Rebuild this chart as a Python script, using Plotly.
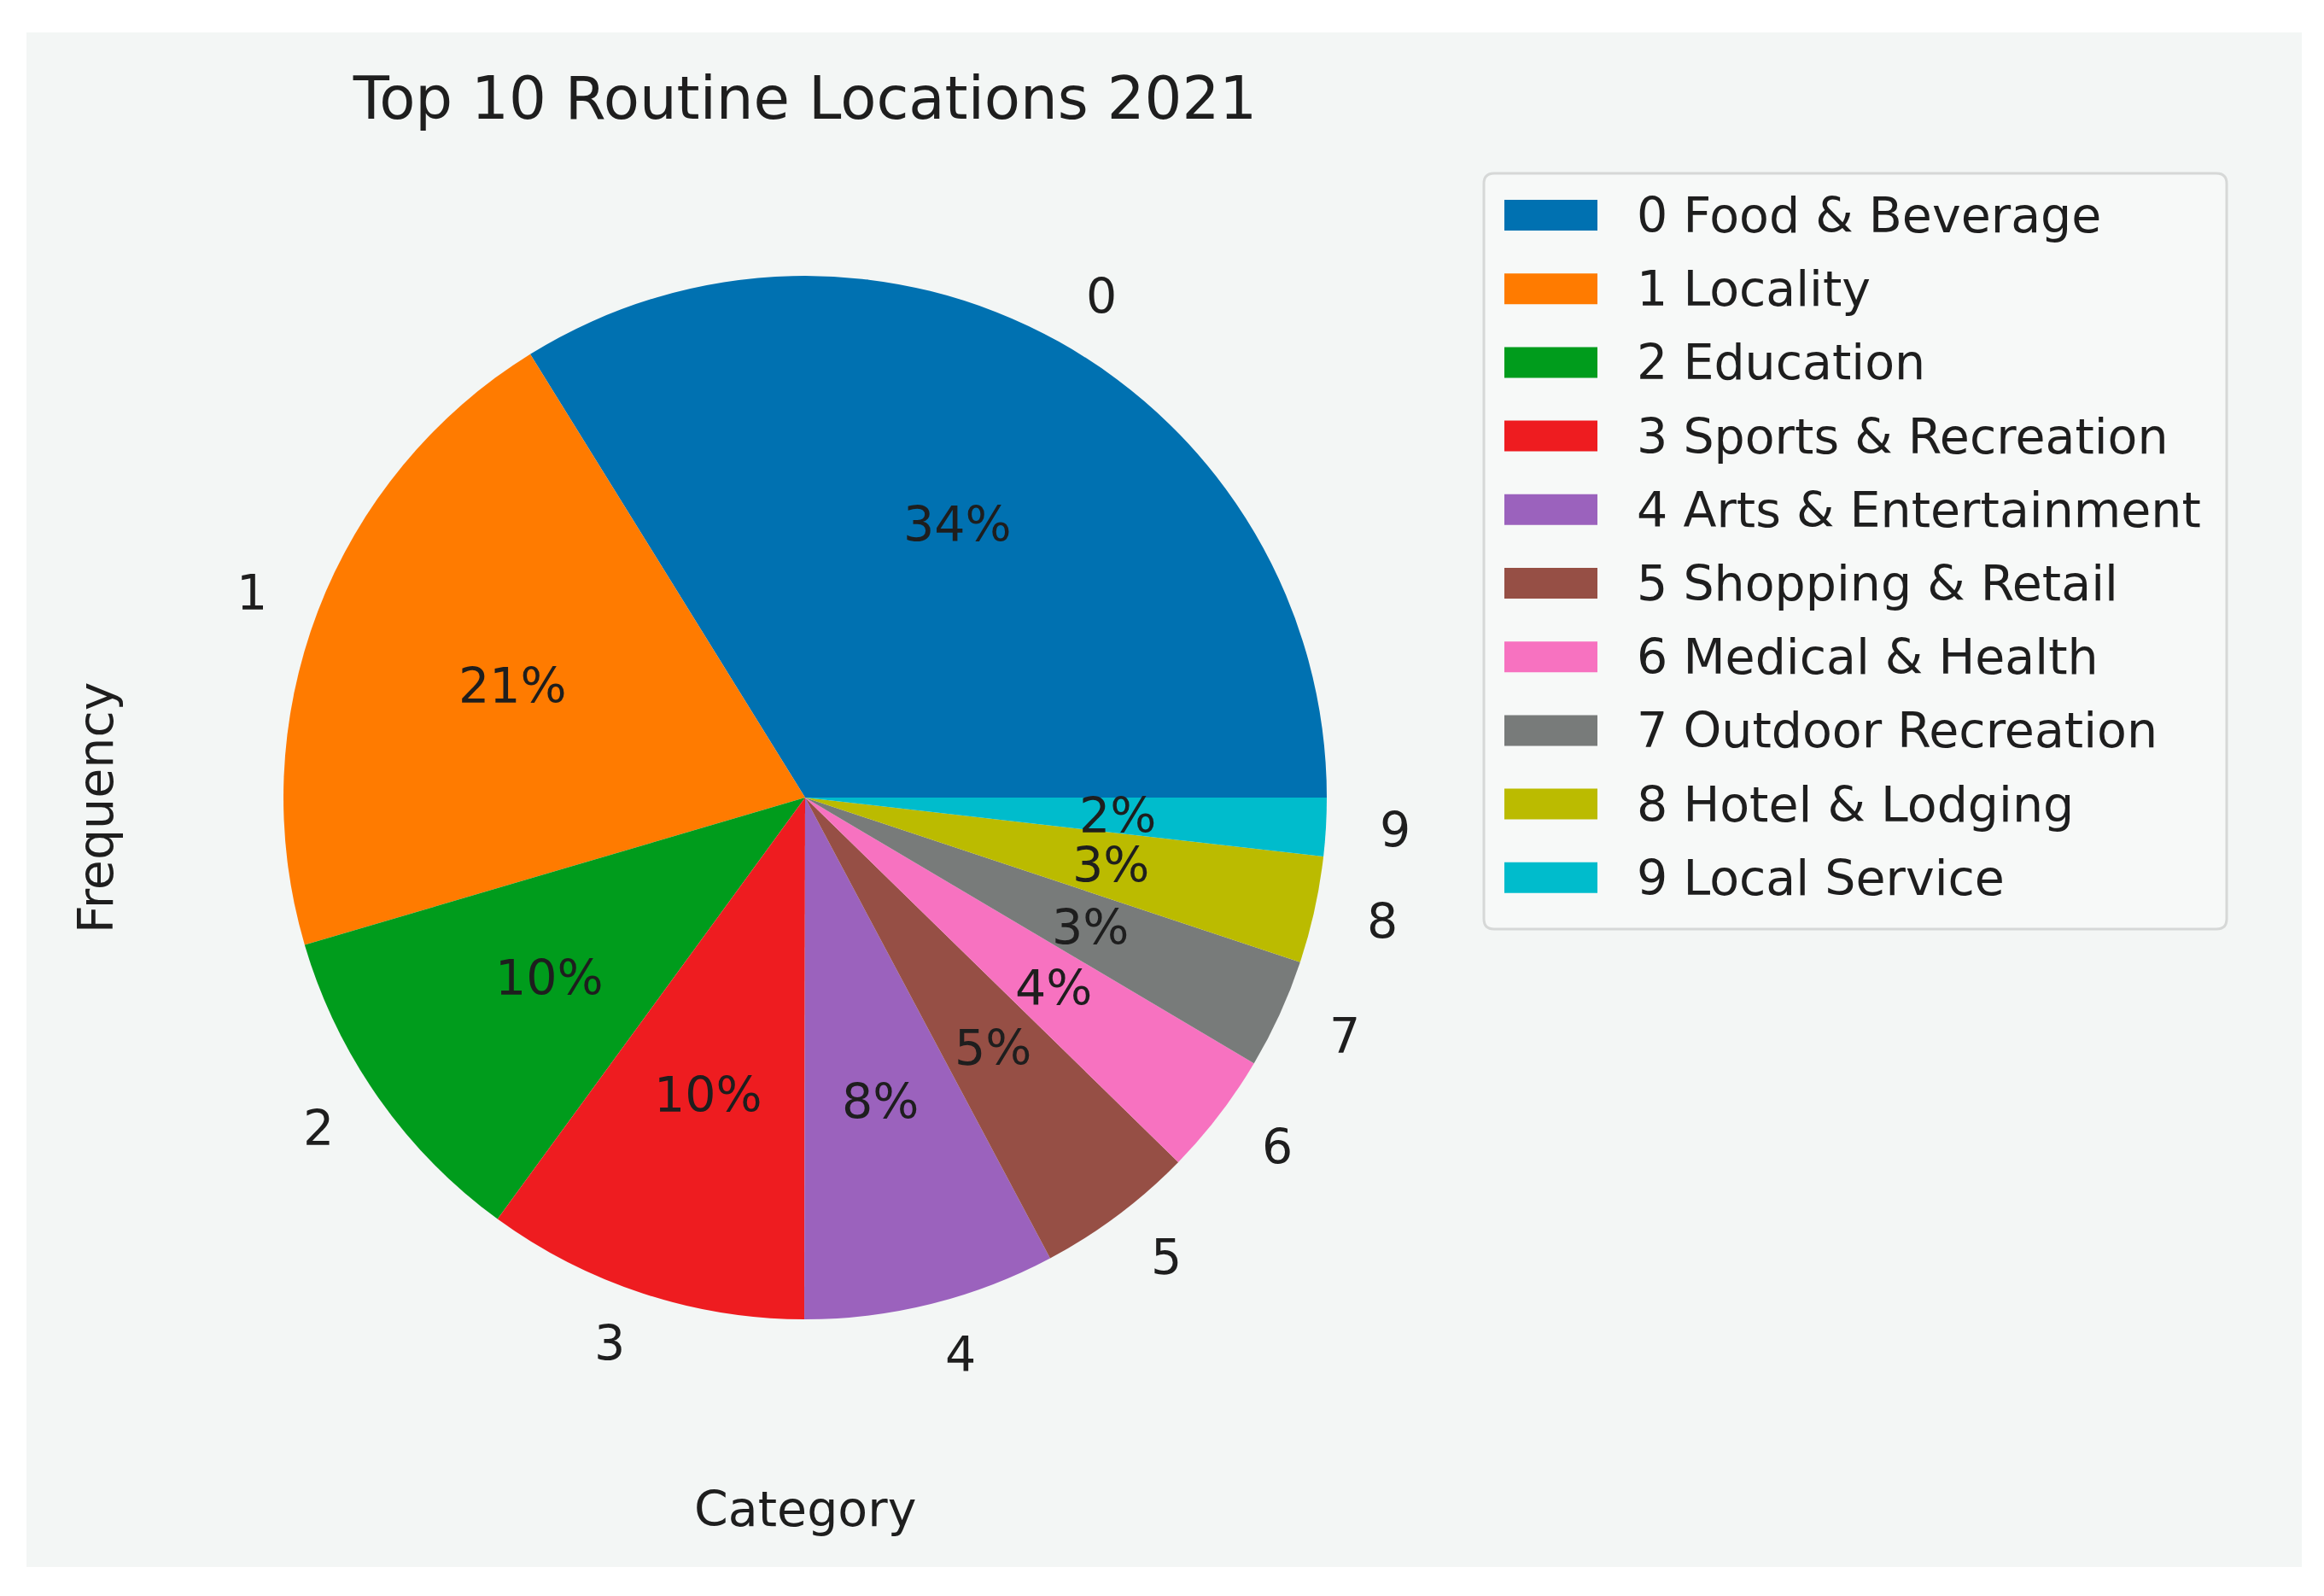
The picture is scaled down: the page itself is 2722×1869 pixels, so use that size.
import math
import plotly.graph_objects as go

# ----------
# data
# ----------
codes = ["0", "1", "2", "3", "4", "5", "6", "7", "8", "9"]
categories = ["Food & Beverage", "Locality", "Education", "Sports & Recreation",
              "Arts & Entertainment", "Shopping & Retail", "Medical & Health",
              "Outdoor Recreation", "Hotel & Lodging", "Local Service"]
frequency = [33.8, 20.7, 10.4, 10.0, 7.8, 4.9, 3.8, 3.4, 3.3, 1.8]
colors = ["#0071b1", "#ff7b00", "#009c1c", "#ee1c20", "#9b62bd",
          "#964f45", "#f772c0", "#787b7a", "#bbbb00", "#00bccc"]

W, H = 2722, 1869
FONT = "DejaVu Sans"
TXT = "#1e1e1e"
BG = "#f3f6f5"
FS = 57


def px_x(x):
    return x / W


def px_y(y):
    return 1 - y / H


def text_ann(x, y, text, size=FS, xanchor="center", angle=0):
    return dict(x=px_x(x), y=px_y(y), xref="paper", yref="paper", text=text,
                showarrow=False, xanchor=xanchor, yanchor="middle", textangle=angle,
                font=dict(size=size, color=TXT, family=FONT))


def plot_pie():
    cx, cy, r = 943, 934, 611
    total = sum(frequency)

    fig = go.Figure()
    # plotly puts the end of the first ccw slice at `rotation`; start it at 3 o'clock like matplotlib
    fig.add_trace(go.Pie(
        values=frequency, labels=codes, sort=False,
        direction="counterclockwise", rotation=90 - 360 * frequency[0] / total,
        marker=dict(colors=colors, line=dict(width=0)),
        textinfo="none", hoverinfo="label+percent", showlegend=False,
        domain=dict(x=[px_x(cx - r), px_x(cx + r)], y=[px_y(cy + r), px_y(cy - r)]),
    ))

    annotations = []
    # pct labels at 0.6 r, index labels at 1.1 r (matplotlib defaults)
    cum = 0
    for code, v in zip(codes, frequency):
        a = math.radians(360 * (cum + v / 2) / total)
        cum += v
        ca, sa = math.cos(a), math.sin(a)
        annotations.append(text_ann(cx + 0.6 * r * ca, cy - 0.6 * r * sa,
                                    "{:.0f}%".format(100 * v / total)))
        annotations.append(text_ann(cx + 1.1 * r * ca, cy - 1.1 * r * sa, code,
                                    xanchor="left" if ca >= 0 else "right"))

    # panel background
    shapes = [dict(type="rect", xref="paper", yref="paper", layer="below",
                   x0=px_x(31), x1=px_x(2696), y0=px_y(1835), y1=px_y(38),
                   fillcolor=BG, line=dict(width=0))]

    # legend box (rounded, like matplotlib)
    lx0, lx1, ly0, ly1, rc = 1738, 2608, 203, 1088, 12
    path = ("M {a},{b} L {c},{b} Q {d},{b} {d},{e} L {d},{f} Q {d},{g} {c},{g} "
            "L {a},{g} Q {h},{g} {h},{f} L {h},{e} Q {h},{b} {a},{b} Z").format(
        a=px_x(lx0 + rc), b=px_y(ly0), c=px_x(lx1 - rc), d=px_x(lx1),
        e=px_y(ly0 + rc), f=px_y(ly1 - rc), g=px_y(ly1), h=px_x(lx0))
    shapes.append(dict(type="path", xref="paper", yref="paper", path=path,
                       fillcolor="#f7f9f8", line=dict(color="#d6d8d7", width=3)))

    row0, step = 252, 86.2
    for i, (code, cat) in enumerate(zip(codes, categories)):
        yc = row0 + i * step
        shapes.append(dict(type="rect", xref="paper", yref="paper",
                           x0=px_x(1762), x1=px_x(1871), y0=px_y(yc + 18), y1=px_y(yc - 18),
                           fillcolor=colors[i], line=dict(width=0)))
        annotations.append(text_ann(1915, yc, "{} {}".format(code, cat), xanchor="left"))

    annotations.append(text_ann(112, 946, "Frequency", angle=-90))
    annotations.append(text_ann(943, 1767, "Category"))

    fig.update_layout(
        width=W, height=H,
        margin=dict(l=0, r=0, t=0, b=0),
        paper_bgcolor="white", plot_bgcolor="white",
        title=dict(text="Top 10 Routine Locations 2021", x=px_x(943), xanchor="center",
                   y=px_y(115), yanchor="middle",
                   font=dict(size=69, color=TXT, family=FONT)),
        shapes=shapes, annotations=annotations,
        font=dict(family=FONT),
    )
    return fig


fig = plot_pie()
# page body has an 8px default margin; drop it so the figure sits at 0,0
fig.write_html("out.html", config={"displayModeBar": False},
               post_script="document.body.style.margin = '0';")
